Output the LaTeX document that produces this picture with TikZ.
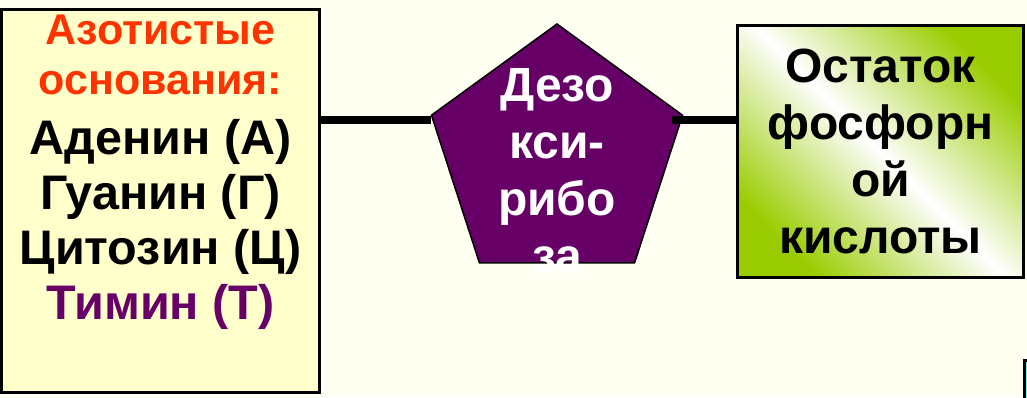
\documentclass[tikz,border=0pt]{standalone}
\usepackage{fontspec}
\setmainfont{Liberation Sans}
\usepackage{tikz}
\usetikzlibrary{shapes.geometric,positioning,calc}
\definecolor{slidebg}{HTML}{FFFFF2}
\definecolor{basefill}{HTML}{FFFFCC}
\definecolor{basered}{HTML}{FF3300}
\definecolor{purp}{HTML}{660066}
\definecolor{leaf}{HTML}{99CC00}
\definecolor{aqua}{HTML}{66FFFF}

\begin{document}
\begin{tikzpicture}[x=1pt, y=1pt, font=\bfseries\fontsize{48.5}{55}\selectfont,
    box/.style={draw=black, line width=3pt, rectangle, inner sep=0pt},
    bond/.style={line width=8pt}]
    \useasboundingbox [fill=slidebg] (0,0) rectangle (1027,397);
    \node [box,fill=basefill,minimum width=318pt,minimum height=383pt] (bases) at (160.5,196) {};
    \node [align=center,inner sep=0pt] (basetext) [below=6.5pt of bases.north]
      {\textcolor{basered}{\fontsize{43}{50}\selectfont Азотистые}\\[-5pt]
       \textcolor{basered}{\fontsize{43}{50}\selectfont основания:}\\[5pt]
       Аденин (А)\\ Гуанин (Г)\\ Цитозин (Ц)\\ \textcolor{purp}{Тимин (Т)}};
    \node [regular polygon,regular polygon sides=5,draw=black,line width=1.5pt,fill=purp,minimum size=264pt,inner sep=0pt] (sugar) at (557,241) {};
    \node [align=center,inner sep=0pt,text=white,font=\bfseries\fontsize{48}{57}\selectfont] (sugartext) [below=45pt of sugar.corner 1]
      {Дезо\\ кси-\\ рибо\\ за};
    \node [box,minimum width=286pt,minimum height=252pt,top color=leaf,bottom color=leaf,middle color=white,shading angle=-45,
      align=center,font=\bfseries\fontsize{48}{57}\selectfont] (phos) at (880.5,245.5)
      {Остаток\\ фосфорн\\ ой\\ кислоты};
    \coordinate (bondline) at (0,277);
    \draw [bond] (bases.east |- bondline) -- (sugar.corner 2 |- bondline);
    \draw [bond] ($(sugar.corner 5 |- bondline)+(-11,0)$) -- (phos.west |- bondline);
    % piece of the next box at the edge
    \draw [line width=3pt,fill=aqua] (1024.5,36.5) rectangle (1060,-20);
\end{tikzpicture}
\end{document}
